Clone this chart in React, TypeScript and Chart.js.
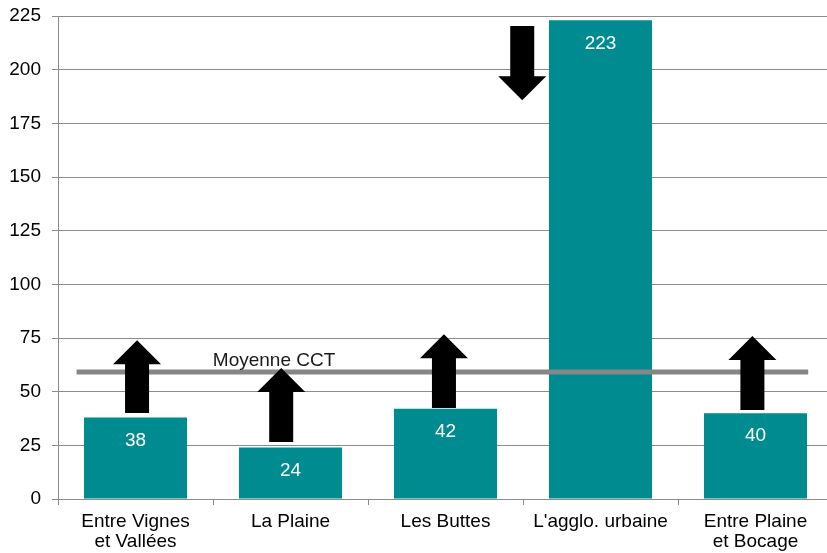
import React, { useEffect, useRef } from "react";
import { Chart, registerables } from "chart.js";

Chart.register(...registerables);

const categories: string[][] = [
  ["Entre Vignes", "et Vallées"],
  ["La Plaine"],
  ["Les Buttes"],
  ["L'agglo. urbaine"],
  ["Entre Plaine", "et Bocage"],
];
const values: number[] = [38, 24, 42, 223, 40];
const yTicks: number[] = [0, 25, 50, 75, 100, 125, 150, 175, 200, 225];

const averageValue = 59.2;
const averageLabel = "Moyenne CCT";
const averageFromIndex = -0.38;
const averageToIndex = 4.34;
const averageLabelIndex = 0.894;

// arrows: position (category index), start value, tip value
const arrowIndex: number[] = [0.01, 0.94, 1.99, 2.495, 3.98];
const arrowFrom: number[] = [40.1, 26.5, 42.4, 220.3, 41.5];
const arrowTo: number[] = [74, 61, 76.8, 185.8, 75.9];

const FONT = "'Liberation Sans', Arial, Helvetica, sans-serif";
const TEAL = "#008B90";
const FS = 19;

export default function App() {
  const ref = useRef<HTMLCanvasElement | null>(null);

  useEffect(() => {
    if (!ref.current) return;

    const overlay = {
      id: "overlay",
      afterDatasetsDraw(chart: any) {
        const ctx = chart.ctx;
        const x = chart.scales.x;
        const y = chart.scales.y;
        ctx.save();
        // average line
        const ay = y.getPixelForValue(averageValue);
        ctx.strokeStyle = "#868686";
        ctx.lineWidth = 5;
        ctx.beginPath();
        ctx.moveTo(x.getPixelForValue(averageFromIndex), ay);
        ctx.lineTo(x.getPixelForValue(averageToIndex), ay);
        ctx.stroke();
        ctx.fillStyle = "#1a1a1a";
        ctx.font = `${FS}px ${FONT}`;
        ctx.textAlign = "center";
        ctx.textBaseline = "alphabetic";
        ctx.fillText(averageLabel, x.getPixelForValue(averageLabelIndex), ay - 6);

        // arrows
        ctx.fillStyle = "#000000";
        const bodyHalf = 12;
        const headHalf = 24;
        const headLen = 24;
        arrowIndex.forEach((idx, i) => {
          const cx = x.getPixelForValue(idx);
          const y0 = y.getPixelForValue(arrowFrom[i]);
          const y1 = y.getPixelForValue(arrowTo[i]);
          const dir = y1 < y0 ? -1 : 1; // -1 = up
          const hb = y1 - dir * headLen;
          ctx.beginPath();
          ctx.moveTo(cx - bodyHalf, y0);
          ctx.lineTo(cx - bodyHalf, hb);
          ctx.lineTo(cx - headHalf, hb);
          ctx.lineTo(cx, y1);
          ctx.lineTo(cx + headHalf, hb);
          ctx.lineTo(cx + bodyHalf, hb);
          ctx.lineTo(cx + bodyHalf, y0);
          ctx.closePath();
          ctx.fill();
        });

        // value labels
        ctx.fillStyle = "#ffffff";
        ctx.font = `${FS}px ${FONT}`;
        ctx.textAlign = "center";
        ctx.textBaseline = "middle";
        const meta = chart.getDatasetMeta(0);
        meta.data.forEach((bar: any, i: number) => {
          ctx.fillText(String(values[i]), bar.x, bar.y + 23);
        });
        ctx.restore();
      },
    };

    const chart = new Chart(ref.current, {
      type: "bar",
      data: {
        labels: categories,
        datasets: [
          {
            data: values,
            backgroundColor: TEAL,
            borderWidth: 0,
            barPercentage: 1,
            categoryPercentage: 0.665,
          },
        ],
      },
      options: {
        responsive: false,
        animation: false,
        layout: { padding: { top: 16, right: 0, left: 0, bottom: 0 } },
        plugins: {
          legend: { display: false },
          tooltip: { enabled: false },
        },
        scales: {
          x: {
            grid: {
              display: true,
              drawOnChartArea: false,
              drawTicks: true,
              tickLength: 6,
              color: "#8c8c8c",
              offset: true,
            },
            border: { display: true, color: "#8c8c8c", width: 1 },
            ticks: {
              color: "#000000",
              padding: 7,
              maxRotation: 0,
              autoSkip: false,
              font: { family: FONT, size: FS, lineHeight: "20px" },
            },
            afterFit: (s: any) => {
              s.height = 54;
              s.paddingLeft = 0;
              s.paddingRight = 0;
            },
          },
          y: {
            min: 0,
            max: 225,
            afterBuildTicks: (s: any) => {
              s.ticks = yTicks.map((v) => ({ value: v }));
            },
            grid: {
              color: "#8c8c8c",
              lineWidth: 1,
              tickLength: 6,
              drawTicks: true,
            },
            border: { display: true, color: "#8c8c8c", width: 1 },
            ticks: {
              color: "#000000",
              padding: 11,
              font: { family: FONT, size: FS },
            },
            afterFit: (s: any) => {
              s.width = 58;
              s.paddingTop = 0;
              s.paddingBottom = 0;
            },
          },
        },
      },
      plugins: [overlay],
    });
    return () => chart.destroy();
  }, []);

  return (
    <div
      style={{
        position: "absolute",
        left: 0,
        top: 0,
        width: 827,
        height: 553,
        overflow: "hidden",
        background: "#ffffff",
      }}
    >
      <canvas ref={ref} width={833} height={553} />
    </div>
  );
}
